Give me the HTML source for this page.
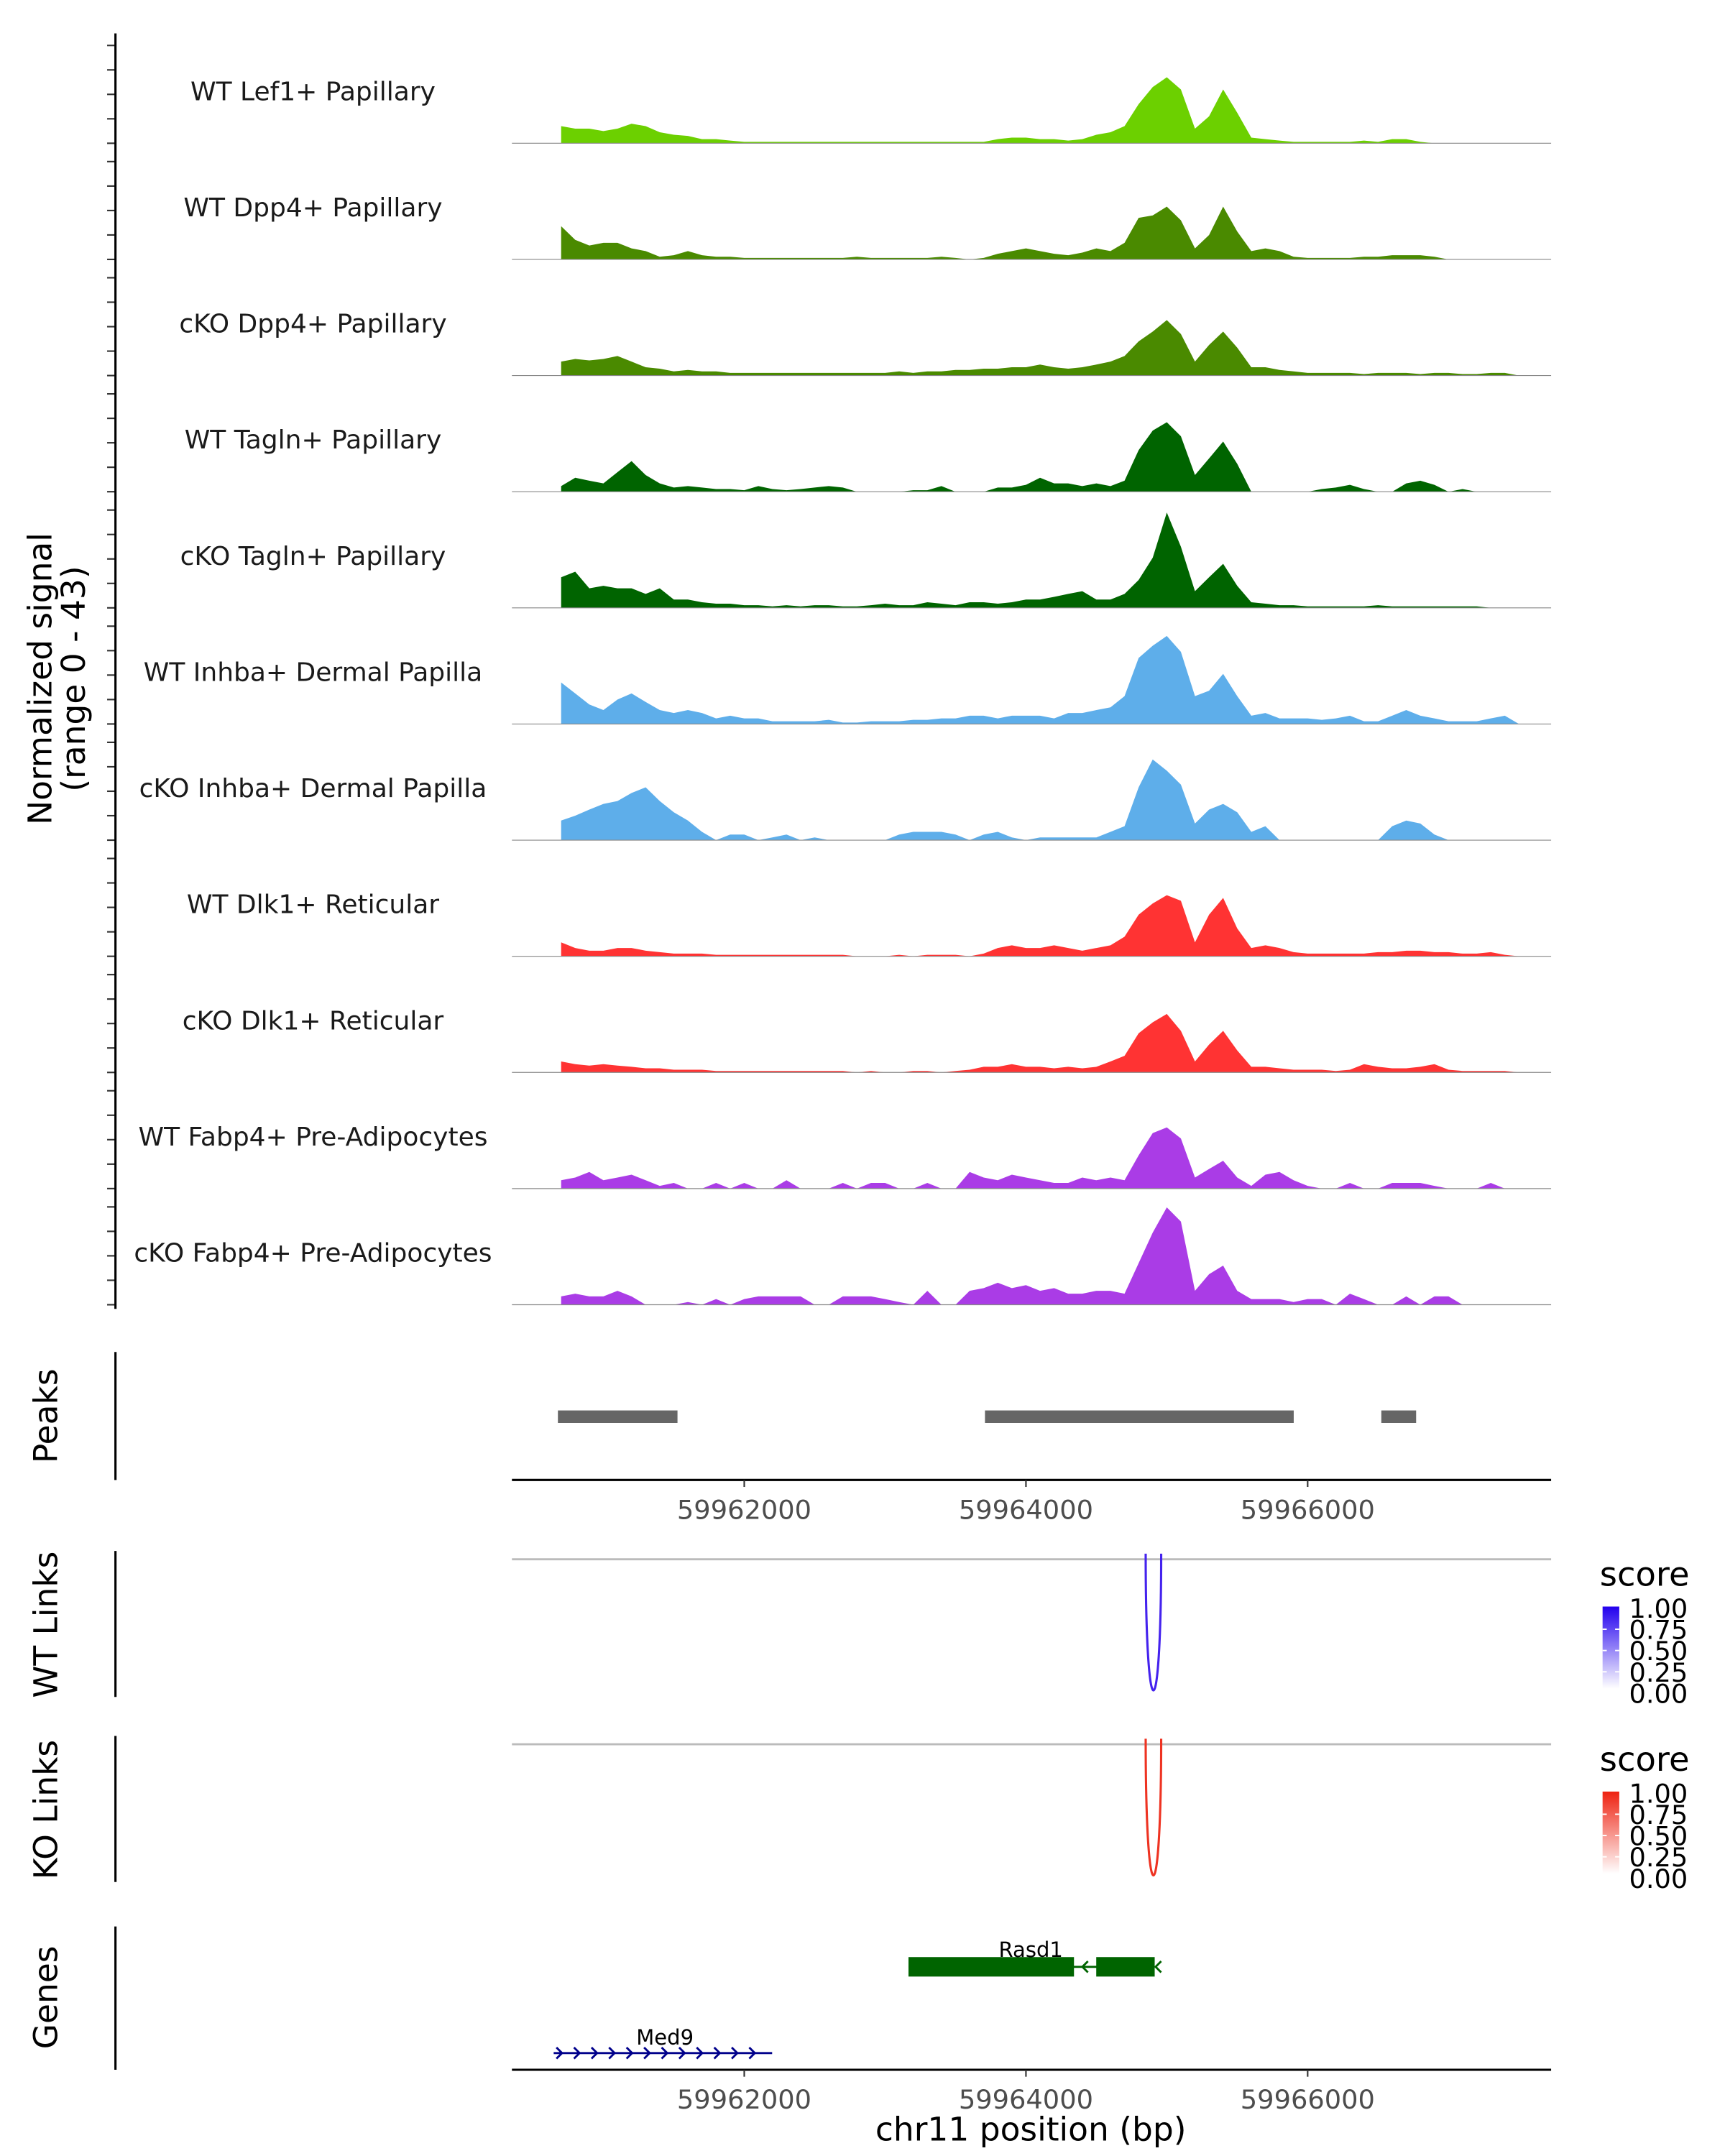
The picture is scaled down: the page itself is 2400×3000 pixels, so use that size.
<!DOCTYPE html>
<html><head><meta charset="utf-8"><style>
html,body{margin:0;padding:0;background:#fff}
svg{display:block;font-family:"DejaVu Sans","Liberation Sans",sans-serif}
</style></head><body>
<svg id="chart" width="2400" height="3000" viewBox="0 0 1240 1550" xmlns="http://www.w3.org/2000/svg">
<defs>
<linearGradient id="gBlue" x1="0" y1="1" x2="0" y2="0"><stop offset="0" stop-color="#ffffff"/><stop offset="1" stop-color="#2200ee"/></linearGradient>
<linearGradient id="gRed" x1="0" y1="1" x2="0" y2="0"><stop offset="0" stop-color="#ffffff"/><stop offset="1" stop-color="#ee2211"/></linearGradient>
</defs>
<g id="tracks"></g>
<g id="peaks"></g>
<g id="links"></g>
<g id="genes"></g>
<g id="axes"></g>
</svg>
<script>
const NS = "http://www.w3.org/2000/svg";
const binStart = 59960700, binStep = 100;
const trackNames = ["WT Lef1+ Papillary","WT Dpp4+ Papillary","cKO Dpp4+ Papillary","WT Tagln+ Papillary","cKO Tagln+ Papillary","WT Inhba+ Dermal Papilla","cKO Inhba+ Dermal Papilla","WT Dlk1+ Reticular","cKO Dlk1+ Reticular","WT Fabp4+ Pre-Adipocytes","cKO Fabp4+ Pre-Adipocytes"];
const trackColors = ["#6CD000","#4A8A00","#4A8A00","#006400","#006400","#5EAEEA","#5EAEEA","#FF3333","#FF3333","#AA3CE6","#AA3CE6"];
const wtLef1 = [7,6,6,5,6,8,7,4.5,3.5,3, 1.7,1.7,1.1,.6,.6,.6,.6,.6,.6,.6, .6,.6,.6,.6,.6,.6,.6,.6,.6,.6, .6,1.7,2.3,2.3,1.7,1.7,1.1,1.7,3.5,4.5, 7,16,23,27,22,6,11,22,12.5,2.3, 1.7,1.1,.6,.6,.6,.6,.6,1.1,.6,1.7, 1.7,.6,0,0,0,0,0,0,0];
const wtDpp4 = [13.6,8,5.7,6.8,6.8,4.5,3.4,1.1,1.7,3.4, 1.7,1.1,1.1,.6,.6,.6,.6,.6,.6,.6, .6,1.1,.6,.6,.6,.6,.6,1.1,.6,0, .6,2.3,3.4,4.5,3.4,2.3,1.7,2.8,4.5,3.4, 6.8,17,18,21.6,16,4.5,10,21.6,11.4,3.4, 4.5,3.4,1.1,.6,.6,.6,.6,1.1,1.1,1.7, 1.7,1.7,1.1,0,0,0,0,0,0];
const koDpp4 = [5.7,6.8,6.2,6.8,8,5.7,3.4,2.8,1.7,2.3, 1.7,1.7,1.1,1.1,1.1,1.1,1.1,1.1,1.1,1.1, 1.1,1.1,1.1,1.1,1.7,1.1,1.7,1.7,2.3,2.3, 2.8,2.8,3.4,3.4,4.5,3.4,2.8,3.4,4.5,5.7, 8,14,18,22.7,17,5.7,12.5,18,11.4,3.4, 3.4,2.3,1.7,1.1,1.1,1.1,1.1,.6,1.1,1.1, 1.1,.6,1.1,1.1,.6,.6,1.1,1.1,0];
const wtTagln = [2.3,5.7,4.5,3.4,8,12.5,6.8,3.4,1.7,2.3, 1.7,1.1,1.1,.6,2.3,1.1,.6,1.1,1.7,2.3, 1.7,0,0,0,0,.6,.6,2.3,0,0, 0,1.7,1.7,2.8,5.7,3.4,3.4,2.3,3.4,2.3, 4.5,17,25,28.4,22.7,6.8,13.6,20.5,11.4,0, 0,0,0,0,1.1,1.7,2.8,1.1,0,0, 3.4,4.5,2.8,0,1.1,0,0,0,0];
const koTagln = [12.5,14.8,8,9,8,8,5.7,8,3.4,3.4, 2.3,1.7,1.7,1.1,1.1,.6,1.1,.6,1.1,1.1, .6,.6,1.1,1.7,1.1,1.1,2.3,1.7,1.1,2.3, 2.3,1.7,2.3,3.4,3.4,4.5,5.7,6.8,3.4,3.4, 5.7,11.4,20.5,39,25,6.8,12.5,18,9,2.3, 1.7,1.1,1.1,.6,.6,.6,.6,.6,1.1,.6, .6,.6,.6,.6,.6,.6,0,0,0];
const wtInhba = [17,12.5,8,5.7,10,12.5,9,5.7,4.5,5.7, 4.5,2.3,3.4,2.3,2.3,1.1,1.1,1.1,1.1,1.7, .6,.6,1.1,1.1,1.1,1.7,1.7,2.3,2.3,3.4, 3.4,2.3,3.4,3.4,3.4,2.3,4.5,4.5,5.7,6.8, 11.4,27,32,36,29.5,11.4,13.6,20.5,11.4,3.4, 4.5,2.3,2.3,2.3,1.7,2.3,3.4,1.1,1.1,3.4, 5.7,3.4,2.3,1.1,1.1,1.1,2.3,3.4,0];
const koInhba = [8,10,12.5,14.8,16,19.3,21.6,16,11.4,8, 3.4,0,2.3,2.3,0,1.1,2.3,0,1.1,0, 0,0,0,0,2.3,3.4,3.4,3.4,2.3,0, 2.3,3.4,1.1,0,1.1,1.1,1.1,1.1,1.1,3.4, 5.7,21.6,33,28.4,22.7,6.8,12.5,14.8,11.4,3.4, 5.7,0,0,0,0,0,0,0,0,5.7, 8,6.8,2.3,0,0,0,0,0,0];
const wtDlk1 = [5.7,3.4,2.3,2.3,3.4,3.4,2.3,1.7,1.1,1.1, 1.1,.6,.6,.6,.6,.6,.6,.6,.6,.6, .6,0,0,0,.6,0,.6,.6,.6,0, 1.1,3.4,4.5,3.4,3.4,4.5,3.4,2.3,3.4,4.5, 8,17,21.6,25,22.7,5.7,17,23.9,11.4,3.4, 4.5,3.4,1.7,1.1,1.1,1.1,1.1,1.1,1.7,1.7, 2.3,2.3,1.7,1.7,1.1,1.1,1.7,.6,0];
const koDlk1 = [4.5,3.4,2.8,3.4,2.8,2.3,1.7,1.7,1.1,1.1, 1.1,.6,.6,.6,.6,.6,.6,.6,.6,.6, .6,0,.6,0,0,.6,.6,0,.6,1.1, 2.3,2.3,3.4,2.3,2.3,1.7,2.3,1.7,2.3,4.5, 6.8,16,20.5,23.9,17,4.5,11.4,17,9,2.3, 2.3,1.7,1.1,1.1,1.1,.6,1.1,3.4,2.3,1.7, 1.7,2.3,3.4,1.1,.6,.6,.6,.6,0];
const wtFabp4 = [3.4,4.5,6.8,3.4,4.5,5.7,3.4,1.1,2.3,0, 0,2.3,0,2.3,0,0,3.4,0,0,0, 2.3,0,2.3,2.3,0,0,2.3,0,0,6.8, 4.5,3.4,5.7,4.5,3.4,2.3,2.3,4.5,3.4,4.5, 3.4,13.6,22.7,25,20.5,4.5,8,11.4,4.5,1.1, 5.7,6.8,3.4,1.1,0,0,2.3,0,0,2.3, 2.3,2.3,1.1,0,0,0,2.3,0,0];
const koFabp4 = [3.4,4.5,3.4,3.4,5.7,3.4,0,0,0,1.1, 0,2.3,0,2.3,3.4,3.4,3.4,3.4,0,0, 3.4,3.4,3.4,2.3,1.1,0,5.7,0,0,5.7, 6.8,9,6.8,8,5.7,6.8,4.5,4.5,5.7,5.7, 4.5,17,29.5,39.8,34,5.7,12.5,16,5.7,2.3, 2.3,2.3,1.1,2.3,2.3,0,4.5,2.3,0,0, 3.4,0,3.4,3.4,0,0,0,0,0];
const trackValues = [wtLef1,wtDpp4,koDpp4,wtTagln,koTagln,wtInhba,koInhba,wtDlk1,koDlk1,wtFabp4,koFabp4];
const yRangeMax = 43;
const peakStarts = [59960677, 59963709, 59966523];
const peakEnds = [59961526, 59965901, 59966770];
const xTicks = [59962000, 59964000, 59966000];
const legendTicks = ["1.00","0.75","0.50","0.25","0.00"];
const wtLinkStart = 59964850, wtLinkEnd = 59964960, wtLinkScore = 1;
const koLinkStart = 59964850, koLinkEnd = 59964960, koLinkScore = 1;

const X0 = 368, X1 = 1115;
function x(bp){ return 332.5 + (bp - 59960000) * 202.5 / 2000; }
const trackH = 75.6;
function y(v, base){ return base - v / yRangeMax * trackH; }

function el(tag, attrs, parent, text){
  const e = document.createElementNS(NS, tag);
  for (const k in attrs) e.setAttribute(k, attrs[k]);
  if (text !== undefined) e.textContent = text;
  parent.appendChild(e); return e;
}
const gT = document.getElementById('tracks');
const gA = document.getElementById('axes');

trackNames.forEach((name, t) => {
  const base = 103 + t * 83.5;
  const vals = trackValues[t];
  let last = vals.length - 1;
  while (last > 0 && vals[last] === 0) last--;
  let d = `M${x(binStart)},${base}`;
  for (let i = 0; i <= Math.min(last + 1, vals.length - 1); i++) d += ` L${x(binStart + i * binStep)},${y(vals[i], base)}`;
  d += ` L${x(binStart + Math.min(last + 1, vals.length - 1) * binStep)},${base} Z`;
  const a = el('path', {d, fill: trackColors[t]}, gT);
  
  
  const bl = el('line', {x1: X0, x2: X1, y1: base, y2: base, stroke: '#888', 'stroke-width': 0.6}, gT);
  
  
  const lb = el('text', {x: 225, y: base - 31, 'text-anchor': 'middle', 'font-size': 18.6, fill: '#1a1a1a'}, gT, name);
  
  
  for (let k = 0; k <= 4; k++) {
    const ty = y(k * 10, base);
    const tk = el('line', {x1: 77, x2: 83, y1: ty, y2: ty, stroke: '#333', 'stroke-width': 1.1}, gA);
    
    
  }
});
el('line', {x1: 83, x2: 83, y1: 24, y2: 941, stroke: '#000', 'stroke-width': 1.6,  }, gA);
const yt = el('text', {transform: 'translate(41,488) rotate(-90)', 'text-anchor': 'middle', 'font-size': 23.5, fill: '#000'}, gA);


el('tspan', {x: 0, dy: -4}, yt, 'Normalized signal');
el('tspan', {x: 0, dy: 24}, yt, '(range 0 - 43)');

const gP = document.getElementById('peaks');
el('line', {x1: 83, x2: 83, y1: 972, y2: 1064, stroke: '#000', 'stroke-width': 1.6}, gP);
el('text', {transform: 'translate(41,1018) rotate(-90)', 'text-anchor': 'middle', 'font-size': 23.5,  }, gP, 'Peaks');
peakStarts.forEach((s, i) => {
  const r = el('rect', {x: x(s), y: 1014, width: x(peakEnds[i]) - x(s), height: 9, fill: '#666'}, gP);
  
  
});
function xAxis(yy, parent){
  el('line', {x1: X0, x2: X1, y1: yy, y2: yy, stroke: '#000', 'stroke-width': 1.6}, parent);
  xTicks.forEach(v => {
    el('line', {x1: x(v), x2: x(v), y1: yy, y2: yy + 5, stroke: '#333', 'stroke-width': 1.1}, parent);
    const t = el('text', {x: x(v), y: yy + 28, 'text-anchor': 'middle', 'font-size': 19, fill: '#4d4d4d'}, parent, String(v));
    
    
  });
}
xAxis(1064, gP);

const gL = document.getElementById('links');
function linkTrack(top, title, s, e, color, grad, score){
  el('line', {x1: 83, x2: 83, y1: top - 6, y2: top + 99, stroke: '#000', 'stroke-width': 1.6}, gL);
  const tt = el('text', {transform: `translate(41,${top + 47}) rotate(-90)`, 'text-anchor': 'middle', 'font-size': 23.5}, gL, title);
  
  
  el('line', {x1: X0, x2: X1, y1: top, y2: top, stroke: '#bbb', 'stroke-width': 1.5}, gL);
  const depth = 127 * score;
  const p = el('path', {d: `M${x(s)},${top - 4} C${x(s)},${top + depth} ${x(e)},${top + depth} ${x(e)},${top - 4}`, fill: 'none', stroke: color, 'stroke-width': 1.6}, gL);
  
  
  const lg = el('g', {}, gL);
  
  
  el('text', {x: 1150, y: top + 19, 'font-size': 24}, lg, 'score');
  el('rect', {x: 1152, y: top + 34, width: 12, height: 59, fill: `url(#${grad})`}, lg);
  legendTicks.forEach((l, i) => {
    const ly = top + 35 + i * 15.3;
    el('text', {x: 1171, y: ly + 7, 'font-size': 19}, lg, l);
    if (i > 0 && i < 4) {
      el('line', {x1: 1152, x2: 1155, y1: ly, y2: ly, stroke: '#fff', 'stroke-width': 1}, lg);
      el('line', {x1: 1161, x2: 1164, y1: ly, y2: ly, stroke: '#fff', 'stroke-width': 1}, lg);
    }
  });
}
linkTrack(1121, 'WT Links', wtLinkStart, wtLinkEnd, '#4422EE', 'gBlue', wtLinkScore);
linkTrack(1254, 'KO Links', koLinkStart, koLinkEnd, '#EE3322', 'gRed', koLinkScore);

const gG = document.getElementById('genes');
el('line', {x1: 83, x2: 83, y1: 1385, y2: 1488, stroke: '#000', 'stroke-width': 1.6}, gG);
el('text', {transform: 'translate(41,1436) rotate(-90)', 'text-anchor': 'middle', 'font-size': 23.5,  }, gG, 'Genes');
const rasd = el('g', {}, gG);


el('line', {x1: x(59963166), x2: x(59964914), y1: 1414, y2: 1414, stroke: '#006400', 'stroke-width': 1.5}, rasd);
el('rect', {x: x(59963166), y: 1407, width: x(59964341) - x(59963166), height: 14, fill: '#006400'}, rasd);
el('rect', {x: x(59964499), y: 1407, width: x(59964914) - x(59964499), height: 14, fill: '#006400'}, rasd);
[59964440, 59964960].forEach(b => el('path', {d: `M${x(b)},1410 l-4,4 l4,4`, fill: 'none', stroke: '#006400', 'stroke-width': 1.5}, rasd));
el('text', {x: 741, y: 1407, 'text-anchor': 'middle', 'font-size': 15}, rasd, 'Rasd1');
const med = el('g', {}, gG);


el('line', {x1: x(59960647), x2: x(59962198), y1: 1476, y2: 1476, stroke: '#00008B', 'stroke-width': 1.5}, med);
for (let i = 0; i < 12; i++) {
  const xx = 400 + i * 12.6;
  el('path', {d: `M${xx},1472 l4,4 l-4,4`, fill: 'none', stroke: '#00008B', 'stroke-width': 1.5}, med);
}
el('text', {x: 478, y: 1470, 'text-anchor': 'middle', 'font-size': 15}, med, 'Med9');
xAxis(1488, gG);
el('text', {x: 741, y: 1539, 'text-anchor': 'middle', 'font-size': 23.5,  }, gG, 'chr11 position (bp)');
</script>
</body></html>
